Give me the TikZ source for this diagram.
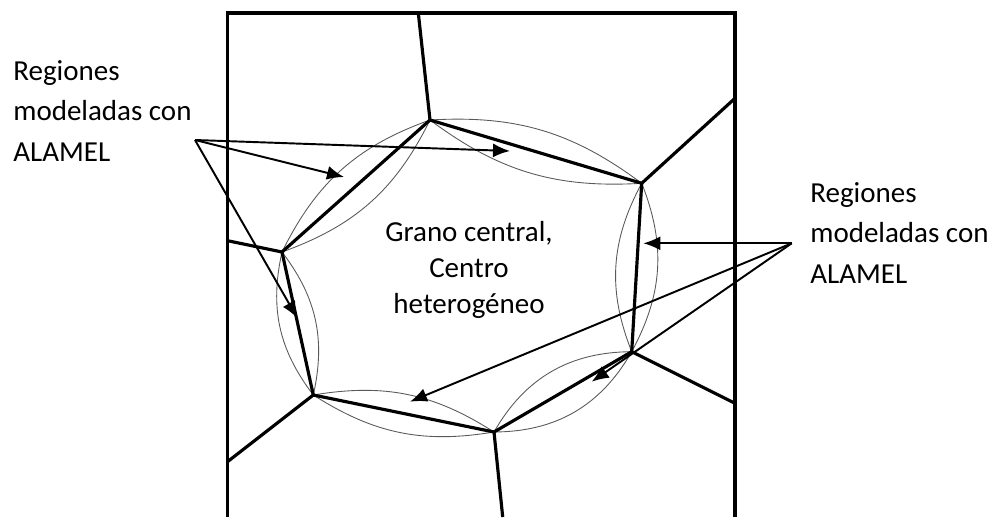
\documentclass[tikz,border=0pt]{standalone}
\usetikzlibrary{arrows.meta}
\usepackage{fontspec}
\setmainfont{Carlito}

\begin{document}
\begin{tikzpicture}[x=0.02cm, y=-0.02cm,
    gbline/.style={line width=1.8pt},
    lensline/.style={gray!70!black, line width=0.5pt},
    callout/.style={->, >={Latex[length=3.4mm,width=2.8mm]}, line width=1.1pt},
    regiontext/.style={align=left, anchor=west, inner sep=0pt, font=\fontsize{16.5}{22.8}\selectfont}]

\useasboundingbox (0,0) rectangle (993,517);

% Box
\draw[gbline] (227.5,517) -- (227.5,13) -- (735,13) -- (735,517);

% Triple points of the central grain
\coordinate (A) at (430,120);
\coordinate (B) at (641.7,183.3);
\coordinate (C) at (631.7,351.7);
\coordinate (D) at (494,432);
\coordinate (E) at (313.3,395);
\coordinate (F) at (282,252);
% where the neighbour boundaries meet the box
\coordinate (Aout) at (418.3,13);
\coordinate (Bout) at (735,98.3);
\coordinate (Cout) at (735,403.3);
\coordinate (Dout) at (502.7,517);
\coordinate (Eout) at (227.5,461.7);
\coordinate (Fout) at (227.5,240.7);

% Lenses (thin curves along each boundary)
\draw[lensline] (A) to[bend left=20] (B) to[bend left=20] (A);
\draw[lensline] (B) to[bend left=25] (C) to[bend left=25] (B);
\draw[lensline] (C) to[bend left=30] (D) to[bend left=30] (C);
\draw[lensline] (D) to[bend left=21] (E) to[bend left=21] (D);
\draw[lensline] (E) to[bend left=25] (F) to[bend left=25] (E);
\draw[lensline] (F) to[bend left=22] (A) to[bend left=22] (F);

% Grain boundaries
\draw[gbline, line join=round] (A) -- (B) -- (C) -- (D) -- (E) -- (F) -- cycle;
\draw[gbline] (A) -- (Aout);
\draw[gbline] (B) -- (Bout);
\draw[gbline] (C) -- (Cout);
\draw[gbline] (D) -- (Dout);
\draw[gbline] (E) -- (Eout);
\draw[gbline] (F) -- (Fout);

% Texts
\node[align=center, inner sep=0pt, font=\fontsize{16.5}{20.5}\selectfont] (grain) at (469,270)
    {Grano central,\\Centro\\heterogéneo};
\node[regiontext] (leftregions) at (13,111) {Regiones\\modeladas con\\ALAMEL};
\node[regiontext] (rightregions) at (810,233) {Regiones\\modeladas con\\ALAMEL};

% Arrows
\coordinate (ltail) at (195,140);
\coordinate (tipAB) at (510,151);
\coordinate (tipAF) at (344,177);
\coordinate (tipEF) at (297.5,318.3);
\coordinate (rtail) at (791.7,243.3);
\coordinate (tipBC) at (643.3,243.3);
\coordinate (tipDE) at (410,401.7);
\coordinate (tipCD) at (591.7,381.7);

\draw[callout] (ltail) -- (tipAB);
\draw[callout] (ltail) -- (tipAF);
\draw[callout] (ltail) -- (tipEF);
\draw[callout] (rtail) -- (tipBC);
\draw[callout] (rtail) -- (tipDE);
\draw[callout] (rtail) -- (tipCD);

\end{tikzpicture}
\end{document}
